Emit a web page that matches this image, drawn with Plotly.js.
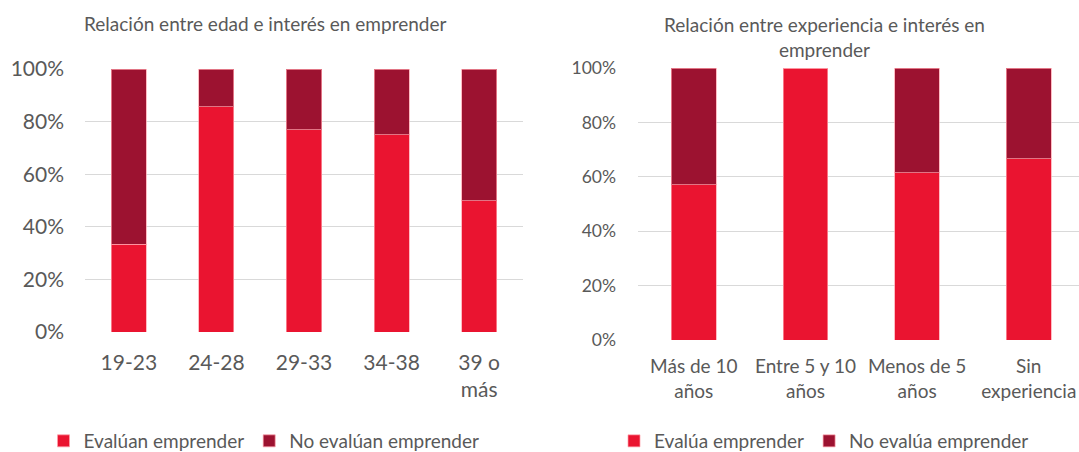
<!DOCTYPE html>
<html>
<head>
<meta charset="utf-8">
<script src="https://cdn.plot.ly/plotly-3.0.1.min.js"></script>
<style>html,body{margin:0;padding:0;background:#fff;}#chart{width:1079px;height:452px;}</style>
</head>
<body>
<div id="chart"></div>
<script>
const edadCategorias = ["19-23", "24-28", "29-33", "34-38", "39 o<br>más"];
const edadEvaluan = [33.3, 85.7, 76.9, 75.0, 50.0];
const edadNoEvaluan = [66.7, 14.3, 23.1, 25.0, 50.0];

const expCategorias = ["Más de 10<br>años", "Entre 5 y 10<br>años", "Menos de 5<br>años", "Sin<br>experiencia"];
const expEvalua = [57.1, 100.0, 61.5, 66.7];
const expNoEvalua = [42.9, 0.0, 38.5, 33.3];

const tickVals = [0, 20, 40, 60, 80, 100];
const tickText = ["0%", "20%", "40%", "60%", "80%", "100%"];

const RED = "#EA1430";
const DARK = "#9C1230";
const TXT = "#595959";
const FONT = "Lato, 'Open Sans', sans-serif";
const outline = {color: "rgba(255,160,170,0.7)", width: 1};

const traces = [
  {type: "bar", x: edadCategorias, y: edadEvaluan, name: "Evalúan emprender",
   marker: {color: RED, line: outline}, xaxis: "x", yaxis: "y", legend: "legend", width: 0.4},
  {type: "bar", x: edadCategorias, y: edadNoEvaluan, name: "No evalúan emprender",
   marker: {color: DARK, line: outline}, xaxis: "x", yaxis: "y", legend: "legend", width: 0.4},
  {type: "bar", x: expCategorias, y: expEvalua, name: "Evalúa emprender",
   marker: {color: RED, line: outline}, xaxis: "x2", yaxis: "y2", legend: "legend2", width: 0.4},
  {type: "bar", x: expCategorias, y: expNoEvalua, name: "No evalúa emprender",
   marker: {color: DARK, line: outline}, xaxis: "x2", yaxis: "y2", legend: "legend2", width: 0.4}
];

const W = 1079, H = 452;
const layout = {
  width: W, height: H,
  margin: {l: 0, r: 0, t: 0, b: 0, autoexpand: false},
  paper_bgcolor: "#fff", plot_bgcolor: "#fff",
  barmode: "stack",
  font: {family: FONT, color: TXT, size: 15},
  showlegend: true,
  xaxis: {domain: [85/W, 523/W], anchor: "y", showgrid: false, zeroline: false,
          showline: false, ticks: "", tickfont: {size: 21, color: TXT},
          ticklabelstandoff: 16, range: [-0.5, 4.5]},
  yaxis: {domain: [1 - 332/H, 1 - 69/H], anchor: "x", range: [0, 100],
          tickvals: tickVals, ticktext: tickText, showgrid: true, gridcolor: "#D9D9D9",
          gridwidth: 1.3, zeroline: false, showline: false, ticks: "",
          tickfont: {size: 21, color: TXT}, ticklabelstandoff: 20},
  xaxis2: {domain: [638/W, 1], anchor: "y2", showgrid: false, zeroline: false,
           showline: false, ticks: "", tickfont: {size: 19, color: TXT},
           ticklabelstandoff: 13, range: [-0.5, 3.45]},
  yaxis2: {domain: [1 - 340/H, 1 - 68/H], anchor: "x2", range: [0, 100],
           tickvals: tickVals, ticktext: tickText, showgrid: true, gridcolor: "#D9D9D9",
           gridwidth: 1.3, zeroline: false, showline: false, ticks: "",
           tickfont: {size: 17.5, color: TXT}, ticklabelstandoff: 21},
  legend: {orientation: "h", x: 264/W, xanchor: "center", y: 1 - 441/H, yanchor: "middle",
           font: {size: 19, color: TXT}, traceorder: "normal", bgcolor: "rgba(0,0,0,0)"},
  legend2: {orientation: "h", x: 824/W, xanchor: "center", y: 1 - 441/H, yanchor: "middle",
            font: {size: 19, color: TXT}, traceorder: "normal", bgcolor: "rgba(0,0,0,0)"},
  annotations: [
    {text: "Relación entre edad e interés en emprender", xref: "paper", yref: "paper",
     x: 265/W, y: 1 - 24/H, xanchor: "center", yanchor: "middle", showarrow: false,
     font: {size: 19, color: TXT}},
    {text: "Relación entre experiencia e interés en<br>emprender", xref: "paper", yref: "paper",
     x: 824/W, y: 1 - 37/H, xanchor: "center", yanchor: "middle", showarrow: false,
     font: {size: 19, color: TXT}}
  ]
};

Plotly.newPlot("chart", traces, layout, {displayModeBar: false, staticPlot: true});
</script>
</body>
</html>
